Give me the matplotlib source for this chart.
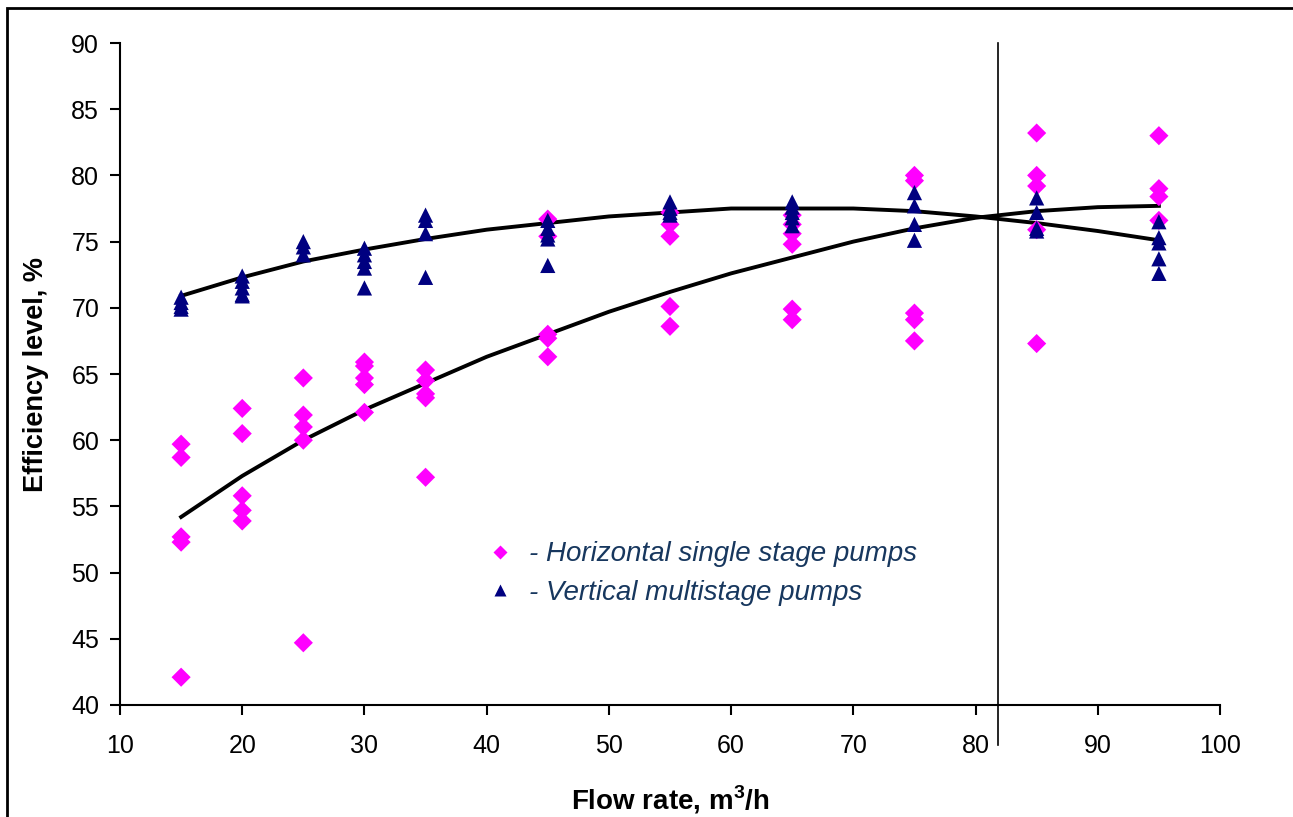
import matplotlib
matplotlib.use("Agg")
import matplotlib.pyplot as plt
from matplotlib.patches import Rectangle
from matplotlib.lines import Line2D

# ---- data ----
flow_h = [15]*5 + [20]*5 + [25]*5 + [30]*5 + [35]*5 + [45]*5 + [55]*5 + [65]*6 + [75]*5 + [85]*5 + [95]*4
eff_h = [59.7, 58.7, 52.7, 52.3, 42.1,
         62.4, 60.5, 55.8, 54.7, 53.9,
         64.7, 61.9, 61.0, 60.0, 44.7,
         65.9, 65.6, 64.7, 64.2, 62.1,
         65.3, 64.5, 63.5, 63.2, 57.2,
         76.7, 75.4, 68.0, 67.7, 66.3,
         77.2, 76.3, 75.4, 70.1, 68.6,
         77.0, 76.3, 75.6, 74.8, 69.9, 69.1,
         80.0, 79.6, 69.6, 69.1, 67.5,
         83.2, 80.0, 79.2, 75.9, 67.3,
         83.0, 79.0, 78.4, 76.6]

flow_v = [15]*4 + [20]*5 + [25]*3 + [30]*5 + [35]*4 + [45]*5 + [55]*4 + [65]*5 + [75]*4 + [85]*4 + [95]*5
eff_v = [70.8, 70.4, 70.1, 69.9,
         72.4, 72.0, 71.5, 71.0, 70.9,
         75.0, 74.6, 74.0,
         74.5, 74.0, 73.5, 73.0, 71.5,
         77.0, 76.6, 75.6, 72.3,
         76.6, 76.0, 75.5, 75.2, 73.2,
         78.0, 77.5, 77.2, 77.0,
         78.0, 77.6, 77.2, 76.8, 76.2,
         78.7, 77.7, 76.3, 75.1,
         78.3, 77.2, 76.0, 75.8,
         76.5, 75.3, 74.9, 73.7, 72.6]

trend_x = [15, 20, 25, 30, 35, 40, 45, 50, 55, 60, 65, 70, 75, 80, 85, 90, 95]
trend_h = [54.2, 57.3, 60.0, 62.3, 64.3, 66.3, 68.0, 69.7, 71.2, 72.6, 73.8, 75.0, 76.0, 76.8, 77.3, 77.6, 77.7]
trend_v = [70.9, 72.3, 73.5, 74.4, 75.2, 75.9, 76.4, 76.9, 77.2, 77.5, 77.5, 77.5, 77.3, 76.9, 76.4, 75.8, 75.1]

divider_x = 81.8
x_ticks = [10, 20, 30, 40, 50, 60, 70, 80, 90, 100]
y_ticks = [40, 45, 50, 55, 60, 65, 70, 75, 80, 85, 90]

label_h = "- Horizontal single stage pumps"
label_v = "- Vertical multistage pumps"

# ---- fonts ----
plt.rcParams['font.family'] = ['Liberation Sans', 'DejaVu Sans']
plt.rcParams['mathtext.fontset'] = 'custom'
plt.rcParams['mathtext.rm'] = 'Liberation Sans:bold'
plt.rcParams['mathtext.bf'] = 'Liberation Sans:bold'

fig = plt.figure(figsize=(12.93, 8.17), dpi=100)
ax = fig.add_axes([120/1293, 1-705/817, 1100/1293, 662/817])

ax.plot(trend_x, trend_h, color='black', lw=2.8, zorder=3)
ax.plot(trend_x, trend_v, color='black', lw=2.8, zorder=3)
ax.scatter(flow_h, eff_h, marker='D', s=95, color='#FF00FF', edgecolors='none', zorder=4)
ax.scatter(flow_v, eff_v, marker='^', s=120, color='#000080', edgecolors='none', zorder=4)

ax.axvline(divider_x, ymin=-0.06, ymax=1.0, color='black', lw=1.2, clip_on=False, zorder=2)

ax.set_xlim(10, 100)
ax.set_ylim(40, 90)
ax.set_xticks(x_ticks)
ax.set_yticks(y_ticks)
for s in ['top', 'right']:
    ax.spines[s].set_visible(False)
for s in ['left', 'bottom']:
    ax.spines[s].set_linewidth(1.5)
ax.tick_params(axis='both', direction='out', length=7, width=1.5, colors='black', labelsize=18)
ax.tick_params(axis='x', pad=14)
ax.tick_params(axis='y', pad=8)

ax.set_xlabel(r"Flow rate, m$^{\mathbf{3}}$/h", fontsize=20, fontweight='bold', labelpad=18)
ax.set_ylabel("Efficiency level, %", fontsize=19.5, fontweight='bold', labelpad=16)

handles = [Line2D([], [], ls='none', marker='D', ms=7, color='#FF00FF', mec='none'),
           Line2D([], [], ls='none', marker='^', ms=9, color='#000080', mec='none')]
leg = ax.legend(handles, [label_h, label_v], loc='upper left', bbox_to_anchor=(0.315, 0.285),
                frameon=False, handlelength=0.6, handletextpad=0.75, labelspacing=0.45,
                prop={'size': 20, 'style': 'italic'})
for t in leg.get_texts():
    t.set_color('#17375E')

fig.add_artist(Rectangle((7/1293, -0.2), 1.2, 1.2 - 8/817, transform=fig.transFigure,
                         fill=False, ec='black', lw=2, clip_on=False))

fig.savefig("out.png", dpi=100)
